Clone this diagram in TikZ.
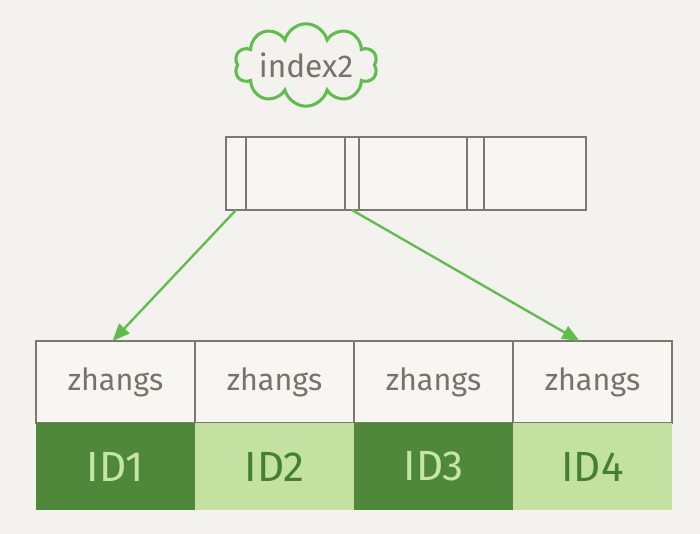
\documentclass[tikz,border=0pt]{standalone}
\usepackage{fontspec}
\setmainfont{Fira Sans}
\usetikzlibrary{shapes.symbols, arrows.meta, positioning, calc}

\definecolor{paper}{HTML}{F3F2EE}
\definecolor{cellbg}{HTML}{F7F6F2}
\definecolor{rule}{HTML}{7D786E}
\definecolor{ink}{HTML}{77736A}
\definecolor{leafgreen}{HTML}{5DBE4A}
\definecolor{iddark}{HTML}{4F873B}
\definecolor{idlight}{HTML}{C3E2A2}
\definecolor{idtextdark}{HTML}{46802F}
\definecolor{idtextlight}{HTML}{C6E7A4}

\begin{document}
\begin{tikzpicture}[
  x=0.03cm, y=-0.03cm,
  >={Triangle[length=5.2mm,width=4.2mm]},
  ptr/.style={rectangle, draw=rule, line width=1.6pt, fill=cellbg, minimum height=2.19cm, inner sep=0pt, outer sep=0pt},
  namecell/.style={rectangle, draw=rule, line width=1.6pt, fill=cellbg, minimum width=4.77cm, minimum height=2.46cm, inner sep=0pt, outer sep=0pt, text=ink, font=\fontsize{26}{28}\selectfont},
  iddk/.style={rectangle, fill=iddark, minimum width=4.77cm, minimum height=2.61cm, inner sep=0pt, outer sep=0pt, text=idtextlight, font=\fontsize{36}{38}\selectfont},
  idlt/.style={iddk, fill=idlight, text=idtextdark},
  link/.style={->, leafgreen, line width=2pt},
]
% background
\fill[paper] (0,0) rectangle (700,534);
\useasboundingbox (0,0) rectangle (700,534);

% index label
\node[cloud, cloud puffs=10, aspect=2.6, draw=leafgreen, line width=2.6pt, fill=paper, inner sep=1pt, text=ink, font=\fontsize{27}{29}\selectfont] (idx) at (306,65) {index2};

% inner page of index2
\node[ptr, minimum width=0.60cm, anchor=west] (p1) at (226,173.5) {};
\node[ptr, minimum width=2.97cm, right=0pt of p1] (k1) {};
\node[ptr, minimum width=0.42cm, right=0pt of k1] (p2) {};
\node[ptr, minimum width=3.24cm, right=0pt of p2] (k2) {};
\node[ptr, minimum width=0.51cm, right=0pt of k2] (p3) {};
\node[ptr, minimum width=3.06cm, right=0pt of p3] (k3) {};

% leaf page: names
\node[namecell, anchor=west] (z1) at (36,382) {zhangs};
\node[namecell, right=0pt of z1] (z2) {zhangs};
\node[namecell, right=0pt of z2] (z3) {zhangs};
\node[namecell, right=0pt of z3] (z4) {zhangs};

% leaf page: ids
\node[iddk, below=0pt of z1] (id1) {ID1};
\node[idlt, below=0pt of z2] (id2) {ID2};
\node[iddk, below=0pt of z3] (id3) {ID3};
\node[idlt, below=0pt of z4] (id4) {ID4};

% arrows
\draw[link] (p1.south) -- ($(z1.north)+(-3,0)$);
\draw[link] (p2.south) -- ($(z4.north)+(-13,0)$);
\end{tikzpicture}
\end{document}
